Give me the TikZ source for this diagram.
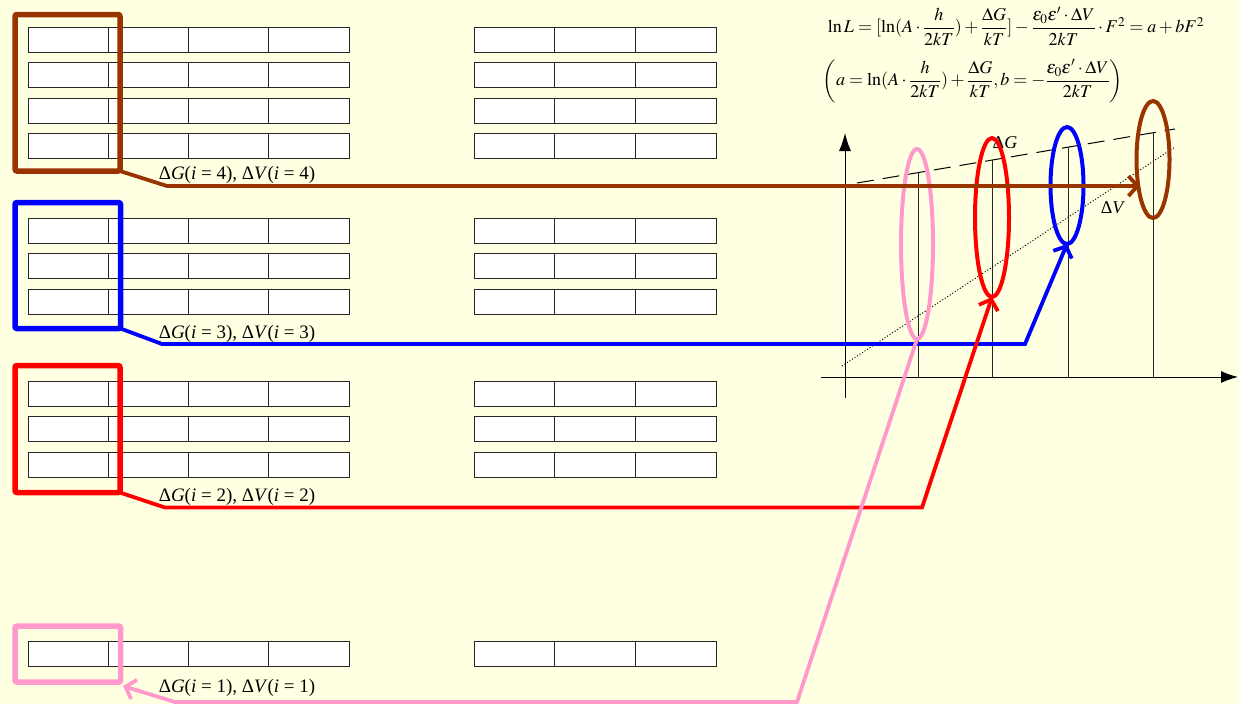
\documentclass[tikz,border=0pt]{standalone}
\usepackage{amsmath}
\usepackage{mathptmx}
\usepackage{fontspec}
\setmainfont{Liberation Serif}
\usetikzlibrary{arrows.meta,shapes.geometric}
\definecolor{bgc}{RGB}{255,255,226}
\definecolor{brownc}{RGB}{153,51,0}
\definecolor{bluec}{RGB}{0,0,255}
\definecolor{redc}{RGB}{255,0,0}
\definecolor{pinkc}{RGB}{255,153,204}
\tikzset{
  cell/.style={draw=black!85, fill=white, line width=0.9pt, minimum height=25pt, inner sep=0pt, outer sep=0pt, anchor=north west},
  lcell/.style={cell, minimum width=80.25pt},
  rcell/.style={cell, minimum width=80.67pt},
  frame/.style={line width=5.5pt, rounded corners=2pt, inner sep=0pt, outer sep=0pt, anchor=north west},
  conn/.style={line width=3.8pt, line join=miter},
  barb/.style={-{Straight Barb[length=9pt,width=20pt,line width=3.8pt]}},
  ring/.style={ellipse, line width=4pt, inner sep=0pt, outer sep=0pt},
  lbl/.style={font=\fontsize{19}{22}\selectfont, inner sep=0pt},
  axl/.style={line width=1pt, draw=black},
  vline/.style={line width=0.9pt, draw=black!85},
  eqn/.style={inner sep=0pt, font=\fontsize{18}{21}\selectfont},
}
\begin{document}
\begin{tikzpicture}[x=1pt,y=-1pt]
\fill[bgc] (0,0) rectangle (1239,704);
\useasboundingbox (0,0) rectangle (1239,704);

% cell grids
\foreach \g/\ys in {4/{27,62,98,133}, 3/{218,253,289}, 2/{381,416,452}, 1/{641}} {
  \foreach \y [count=\r] in \ys {
    \foreach \x [count=\c] in {28,108.25,188.5,268.75}
      \node[lcell] (L\g-\r-\c) at (\x,\y) {};
    \foreach \x [count=\c] in {474,554.67,635.33}
      \node[rcell] (R\g-\r-\c) at (\x,\y) {};
  }
}

% selection frames
\node[frame, draw=brownc, minimum width=105pt, minimum height=156.5pt] (f4) at (15,14.5) {};
\node[frame, draw=bluec, minimum width=105.5pt, minimum height=126pt] (f3) at (15,202.5) {};
\node[frame, draw=redc, minimum width=105pt, minimum height=127pt] (f2) at (15,365.5) {};
\node[frame, draw=pinkc, minimum width=105.5pt, minimum height=56pt] (f1) at (15,626) {};

% labels
\node[lbl] (l4) at (237,175) {Δ\textit{G}(\textit{i} = 4), Δ\textit{V}(\textit{i} = 4)};
\node[lbl] (l3) at (237,334) {Δ\textit{G}(\textit{i} = 3), Δ\textit{V}(\textit{i} = 3)};
\node[lbl] (l2) at (237,497) {Δ\textit{G}(\textit{i} = 2), Δ\textit{V}(\textit{i} = 2)};
\node[lbl] (l1) at (237,688) {Δ\textit{G}(\textit{i} = 1), Δ\textit{V}(\textit{i} = 1)};

% formula
\node[eqn] (eq1) at (1016,26)
  {$\ln L=[\ln(A\cdot\dfrac{h}{2kT})+\dfrac{\Delta G}{kT}]-\dfrac{\varepsilon_0\varepsilon'\cdot\Delta V}{2kT}\cdot F^2=a+bF^2$};
\node[eqn] (eq2) at (973,81)
  {$\left(a=\ln(A\cdot\dfrac{h}{2kT})+\dfrac{\Delta G}{kT},b=-\dfrac{\varepsilon_0\varepsilon'\cdot\Delta V}{2kT}\right)$};

% graph
\coordinate (yb) at (845,398);
\coordinate (yt) at (845,133);
\coordinate (xl) at (821,377);
\coordinate (xr) at (1238,377);
\draw[axl, -{Latex[length=18pt,width=12pt]}] (yb) -- (yt);
\draw[axl, -{Latex[length=17pt,width=12pt]}] (xl) -- (xr);
\coordinate (d0) at (857,183);
\coordinate (d1) at (1175,129);
\draw[line width=1pt, dash pattern=on 17pt off 9pt] (d0) -- (d1);
\coordinate (p0) at (842,366);
\coordinate (p1) at (1175,147);
\draw[line width=1pt, dotted] (p0) -- (p1);
\foreach \i/\vx/\vt in {1/918/172.6, 2/992/160.1, 3/1068/147.2, 4/1153/132.8} {
  \coordinate (vb\i) at (\vx,377);
  \coordinate (vt\i) at (\vx,\vt);
  \draw[vline] (vb\i) -- (vt\i);
}
\node[inner sep=0pt, font=\fontsize{18}{20}\selectfont] (dG) at (1005,143) {Δ\textit{G}};
\node[inner sep=0pt, font=\fontsize{18}{20}\selectfont] (dV) at (1113,208) {Δ\textit{V}};

% rings
\node[ring, draw=pinkc, minimum width=32pt, minimum height=190pt] (e1) at (917,244) {};
\node[ring, draw=redc, minimum width=34pt, minimum height=159pt] (e2) at (992,217.5) {};
\node[ring, draw=bluec, minimum width=33pt, minimum height=117pt] (e3) at (1067,185.5) {};
\node[ring, draw=brownc, minimum width=33pt, minimum height=117pt] (e4) at (1153,159.5) {};

% connectors
\coordinate (b1) at (162,344);
\coordinate (b2) at (1025,344);
\draw[conn, draw=bluec, barb] (f3.south east) -- (b1) -- (b2) -- (e3.south);
\coordinate (r1) at (165,507.5);
\coordinate (r2) at (922,507.5);
\draw[conn, draw=redc, barb] (f2.south east) -- (r1) -- (r2) -- (e2.south);
\coordinate (k1) at (797,702);
\coordinate (k2) at (175,702);
\coordinate (k3) at (123,686);
\draw[conn, draw=pinkc, barb] (e1.south) -- (k1) -- (k2) -- (k3);
\coordinate (w1) at (167,186);
\coordinate (w2) at (1140,186);
\draw[conn, draw=brownc, barb] (f4.south east) -- (w1) -- (w2);
\end{tikzpicture}
\end{document}
